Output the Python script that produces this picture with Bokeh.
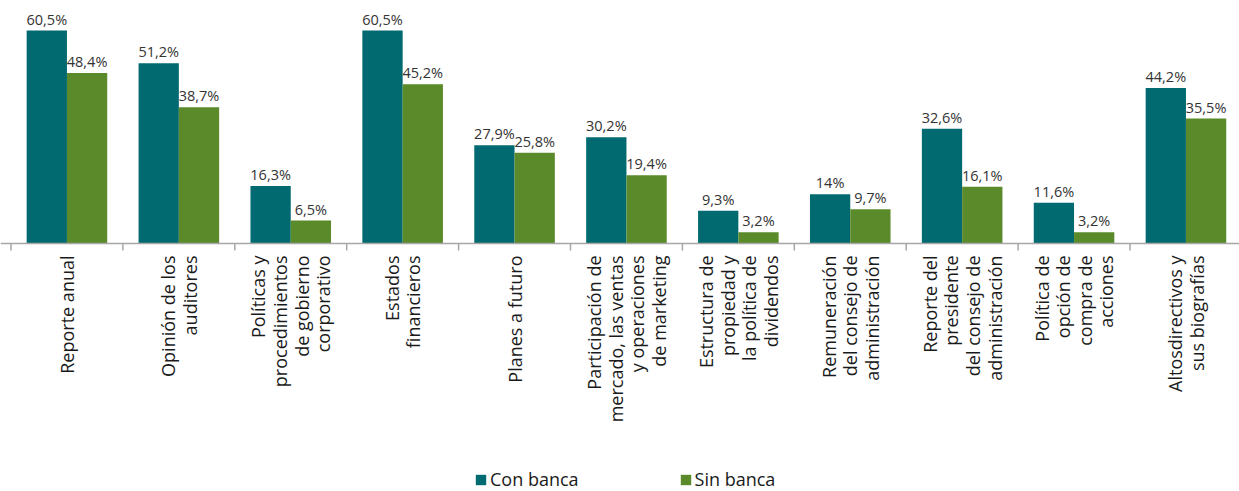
import numpy as np
from bokeh.plotting import figure
from bokeh.models import ColumnDataSource, Span, Legend, LegendItem, Range1d
from bokeh.core.properties import value
from bokeh.embed import file_html
from bokeh.resources import INLINE

categories = [
    "Reporte anual",
    "Opinión de los\nauditores",
    "Políticas y\nprocedimientos\nde gobierno\ncorporativo",
    "Estados\nfinancieros",
    "Planes a futuro",
    "Participación de\nmercado, las ventas\ny operaciones\nde marketing",
    "Estructura de\npropiedad y\nla política de\ndividendos",
    "Remuneración\ndel consejo de\nadministración",
    "Reporte del\npresidente\ndel consejo de\nadministración",
    "Política de\nopción de\ncompra de\nacciones",
    "Altosdirectivos y\nsus biografías",
]
con_banca = [60.5, 51.2, 16.3, 60.5, 27.9, 30.2, 9.3, 14, 32.6, 11.6, 44.2]
sin_banca = [48.4, 38.7, 6.5, 45.2, 25.8, 19.4, 3.2, 9.7, 16.1, 3.2, 35.5]
series_names = ["Con banca", "Sin banca"]

TEAL = "#006a70"
GREEN = "#5b8a2a"
FONT = "Open Sans"
TXT = "#333333"

W, H = 1239, 491
cat_px = 111.9
left_px = 10.5
base_px = 243
unit_px = 213 / 60.5  # pixels per percentage point

x_start = -left_px / cat_px
x_end = x_start + W / cat_px
y_end = base_px / unit_px
y_start = -(H - base_px) / unit_px

def fmt(v):
    s = ("%g" % v).replace(".", ",")
    return s + "%"

n = len(categories)
centers = np.arange(n) + 0.5
bw = 0.36
src_c = ColumnDataSource(dict(x=centers - bw / 2, top=con_banca, lab=[fmt(v) for v in con_banca]))
src_s = ColumnDataSource(dict(x=centers + bw / 2, top=sin_banca, lab=[fmt(v) for v in sin_banca]))
src_cat = ColumnDataSource(dict(x=centers, y=[0] * n, lab=categories))

p = figure(width=W, height=H, output_backend="svg", toolbar_location=None,
           x_range=Range1d(x_start, x_end), y_range=Range1d(y_start, y_end),
           min_border=0, outline_line_color=None)
p.axis.visible = False
p.grid.visible = False

r1 = p.vbar(x="x", top="top", bottom=0, width=bw, source=src_c, fill_color=TEAL, line_color=None)
r2 = p.vbar(x="x", top="top", bottom=0, width=bw, source=src_s, fill_color=GREEN, line_color=None)

for s in (src_c, src_s):
    p.text(x="x", y="top", text="lab", source=s, text_align="center", text_baseline="bottom",
           y_offset=-2, text_font=value(FONT), text_font_size="14.5px", text_color=TXT)

# axis line and ticks
p.add_layout(Span(location=0, dimension="width", line_color="#a6a6a6", line_width=1.5))
bounds = np.arange(n + 1)
p.segment(x0=bounds, y0=[0] * (n + 1), x1=bounds, y1=[-7 / unit_px] * (n + 1),
          line_color="#a6a6a6", line_width=1.5)

p.text(x="x", y="y", text="lab", source=src_cat, angle=np.pi / 2, y_offset=12,
       text_align="right", text_baseline="middle", text_font=value(FONT),
       text_font_size="18px", text_color="#1a1a1a", text_line_height=0.9)

legend = Legend(items=[LegendItem(label=series_names[0], renderers=[r1]),
                       LegendItem(label=series_names[1], renderers=[r2])],
                orientation="horizontal", location=(474, 0), padding=0, margin=0,
                spacing=100, glyph_width=13, glyph_height=13, label_standoff=3,
                label_text_font=FONT, label_text_font_size="18px", label_text_color="#1a1a1a",
                border_line_color=None, background_fill_alpha=0)
p.add_layout(legend)

open("out.html", "w").write(file_html(p, INLINE))
